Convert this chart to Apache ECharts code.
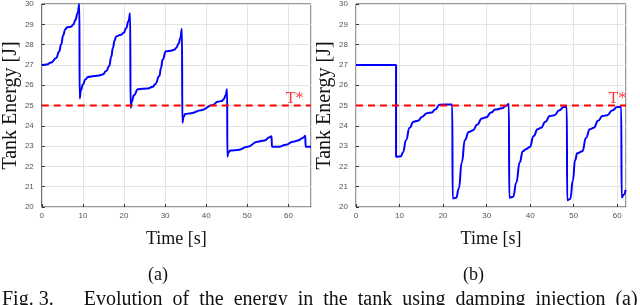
<!DOCTYPE html>
<html><head><meta charset="utf-8">
<script src="https://cdn.jsdelivr.net/npm/echarts@6/dist/echarts.min.js"></script>
<style>html,body{margin:0;padding:0;background:#fff}#c{width:640px;height:305px}</style>
</head><body><div id="c"></div>
<script>
// Panel (a): damping injection
const energyA = [[0,27],[1.2,27.02],[2.3,27.12],[3.5,27.34],[4.2,27.65],[4.7,28.0],[5.2,28.45],[5.7,28.75],[6.2,28.86],[7.1,28.88],[7.7,29.0],[8.2,29.22],[8.7,29.55],[9.15,30.0],[9.2,25.35],[9.5,25.75],[10.0,26.04],[10.6,26.28],[11.2,26.4],[12.8,26.45],[14.0,26.48],[14.8,26.53],[15.7,26.7],[16.4,26.94],[16.9,27.4],[17.3,27.83],[17.7,28.2],[18.1,28.4],[19.3,28.49],[20.0,28.6],[20.5,28.81],[21.1,29.15],[21.5,29.55],[21.6,24.89],[21.9,25.2],[22.4,25.5],[23.4,25.8],[25.8,25.84],[27.0,25.92],[27.6,26.05],[28.6,26.45],[29.0,26.85],[29.4,27.26],[30.2,27.67],[31.5,27.7],[32.2,27.75],[32.7,27.83],[33.3,28.05],[33.7,28.32],[34.1,28.78],[34.2,24.15],[34.5,24.45],[34.9,24.58],[36.3,24.62],[38.8,24.77],[41.6,25.03],[42.8,25.19],[43.8,25.22],[44.3,25.32],[44.7,25.5],[45.1,25.8],[45.15,22.48],[45.4,22.7],[45.9,22.78],[47.7,22.81],[50.1,22.97],[52.5,23.22],[54.2,23.28],[55.4,23.43],[55.9,23.49],[56.0,22.97],[57.8,22.97],[59.4,23.07],[61.1,23.22],[62.3,23.28],[63.5,23.4],[64.1,23.51],[64.2,22.97],[65.5,22.97]];
// Panel (b)
const energyB = [[0,27],[9.2,27],[9.2,22.48],[10.3,22.5],[10.8,22.7],[11.5,23.3],[12.3,23.9],[13.2,24.2],[14.2,24.25],[15.2,24.45],[16.3,24.62],[17.4,24.66],[18.2,24.8],[19.2,25.04],[22.1,25.05],[22.2,20.42],[23.0,20.45],[23.6,20.9],[24.3,22.2],[25.0,23.3],[25.9,23.7],[26.9,23.78],[27.8,24.05],[28.9,24.36],[29.9,24.42],[31.0,24.65],[32.0,24.8],[33.5,24.86],[34.4,24.98],[35.1,25.07],[35.2,20.46],[36.1,20.5],[36.8,21.2],[37.6,22.2],[38.3,22.75],[39.1,22.86],[39.9,22.95],[40.8,23.5],[41.7,23.83],[42.5,23.9],[43.5,24.2],[44.5,24.48],[45.6,24.52],[46.6,24.75],[47.7,24.92],[48.4,24.93],[48.5,20.33],[49.2,20.4],[49.8,21.3],[50.3,22.3],[50.8,22.65],[52.0,22.75],[52.8,23.4],[53.7,23.83],[54.6,23.9],[55.6,24.25],[56.6,24.48],[57.7,24.52],[58.8,24.75],[60.0,24.92],[60.9,24.93],[61.0,20.46],[61.5,20.6],[61.9,20.84]];
const threshold = 25;
const thresholdLabel = 'T*';
const labelPosA = 61.5;
const labelPosB = 60.0;
const xMaxA = 65.5;
const xMaxB = 62;
const yLabel = 'Tank Energy [J]';
const xLabel = 'Time [s]';
const panelA = '(a)';
const panelB = '(b)';
const caption = 'Fig. 3.      Evolution  of  the  energy  in  the  tank  using  damping  injection  (a)';

const chart = echarts.init(document.getElementById('c'), null, {renderer:'canvas'});
const serif = '"Liberation Serif", "Times New Roman", serif';
function xAx(idx, max){
  return {type:'value', gridIndex:idx, min:0, max:max, interval:10,
    name:xLabel, nameLocation:'middle', nameGap:23,
    nameTextStyle:{fontFamily:serif, fontSize:18, color:'#111'},
    axisLine:{show:false}, axisTick:{show:true, inside:true, length:3, lineStyle:{color:'#333'}},
    axisLabel:{fontSize:8, color:'#555', margin:5, showMaxLabel:false, fontFamily:'Liberation Sans, Arial'},
    splitLine:{show:true, lineStyle:{color:'#e3e3e3', width:1}}};
}
function yAx(idx, gap){
  return {type:'value', gridIndex:idx, min:20, max:30, interval:1,
    name:yLabel, nameLocation:'middle', nameGap:gap,
    nameTextStyle:{fontFamily:serif, fontSize:20, color:'#111'},
    axisLine:{show:false}, axisTick:{show:true, inside:true, length:3, lineStyle:{color:'#333'}},
    axisLabel:{fontSize:8, color:'#555', margin:8, fontFamily:'Liberation Sans, Arial'},
    splitLine:{show:true, lineStyle:{color:'#e3e3e3', width:1}}};
}
function lineSeries(idx, data){
  return {type:'line', xAxisIndex:idx, yAxisIndex:idx, data:data, showSymbol:false, symbol:'none',
    smooth:0.5, smoothMonotone:'x', lineStyle:{color:'#0000ff', width:2}, z:3, animation:false};
}
function thrSeries(idx, max){
  return {type:'line', xAxisIndex:idx, yAxisIndex:idx, data:[[0,threshold],[max,threshold]], symbol:'none',
    lineStyle:{color:'#ff0000', width:2, type:[7,5]}, z:4, animation:false};
}
function lblSeries(idx, x){
  return {type:'scatter', xAxisIndex:idx, yAxisIndex:idx, data:[[x,threshold]], symbolSize:0,
    label:{show:true, formatter:thresholdLabel, position:'top', distance:-1, color:'#ff0000', fontSize:16, fontFamily:serif},
    z:5, animation:false};
}
chart.setOption({
  animation:false,
  backgroundColor:'#fff',
  grid:[
    {left:41, top:2, width:270, height:205, show:true, borderColor:'#333', borderWidth:1, backgroundColor:'#fff'},
    {left:356, top:2, width:270, height:205, show:true, borderColor:'#333', borderWidth:1, backgroundColor:'#fff'}
  ],
  xAxis:[xAx(0, xMaxA), xAx(1, xMaxB)],
  yAxis:[yAx(0, 17), yAx(1, 17)],
  series:[lineSeries(0, energyA), thrSeries(0, xMaxA), lblSeries(0, labelPosA),
          lineSeries(1, energyB), thrSeries(1, xMaxB), lblSeries(1, labelPosB)],
  graphic:[
    {type:'text', left:148, top:266, style:{text:panelA, font:'18px '+serif, fill:'#111'}},
    {type:'text', left:463, top:266, style:{text:panelB, font:'18px '+serif, fill:'#111'}},
    {type:'text', left:2, top:290, style:{text:caption, font:'20px '+serif, fill:'#111'}}
  ]
});
</script></body></html>
